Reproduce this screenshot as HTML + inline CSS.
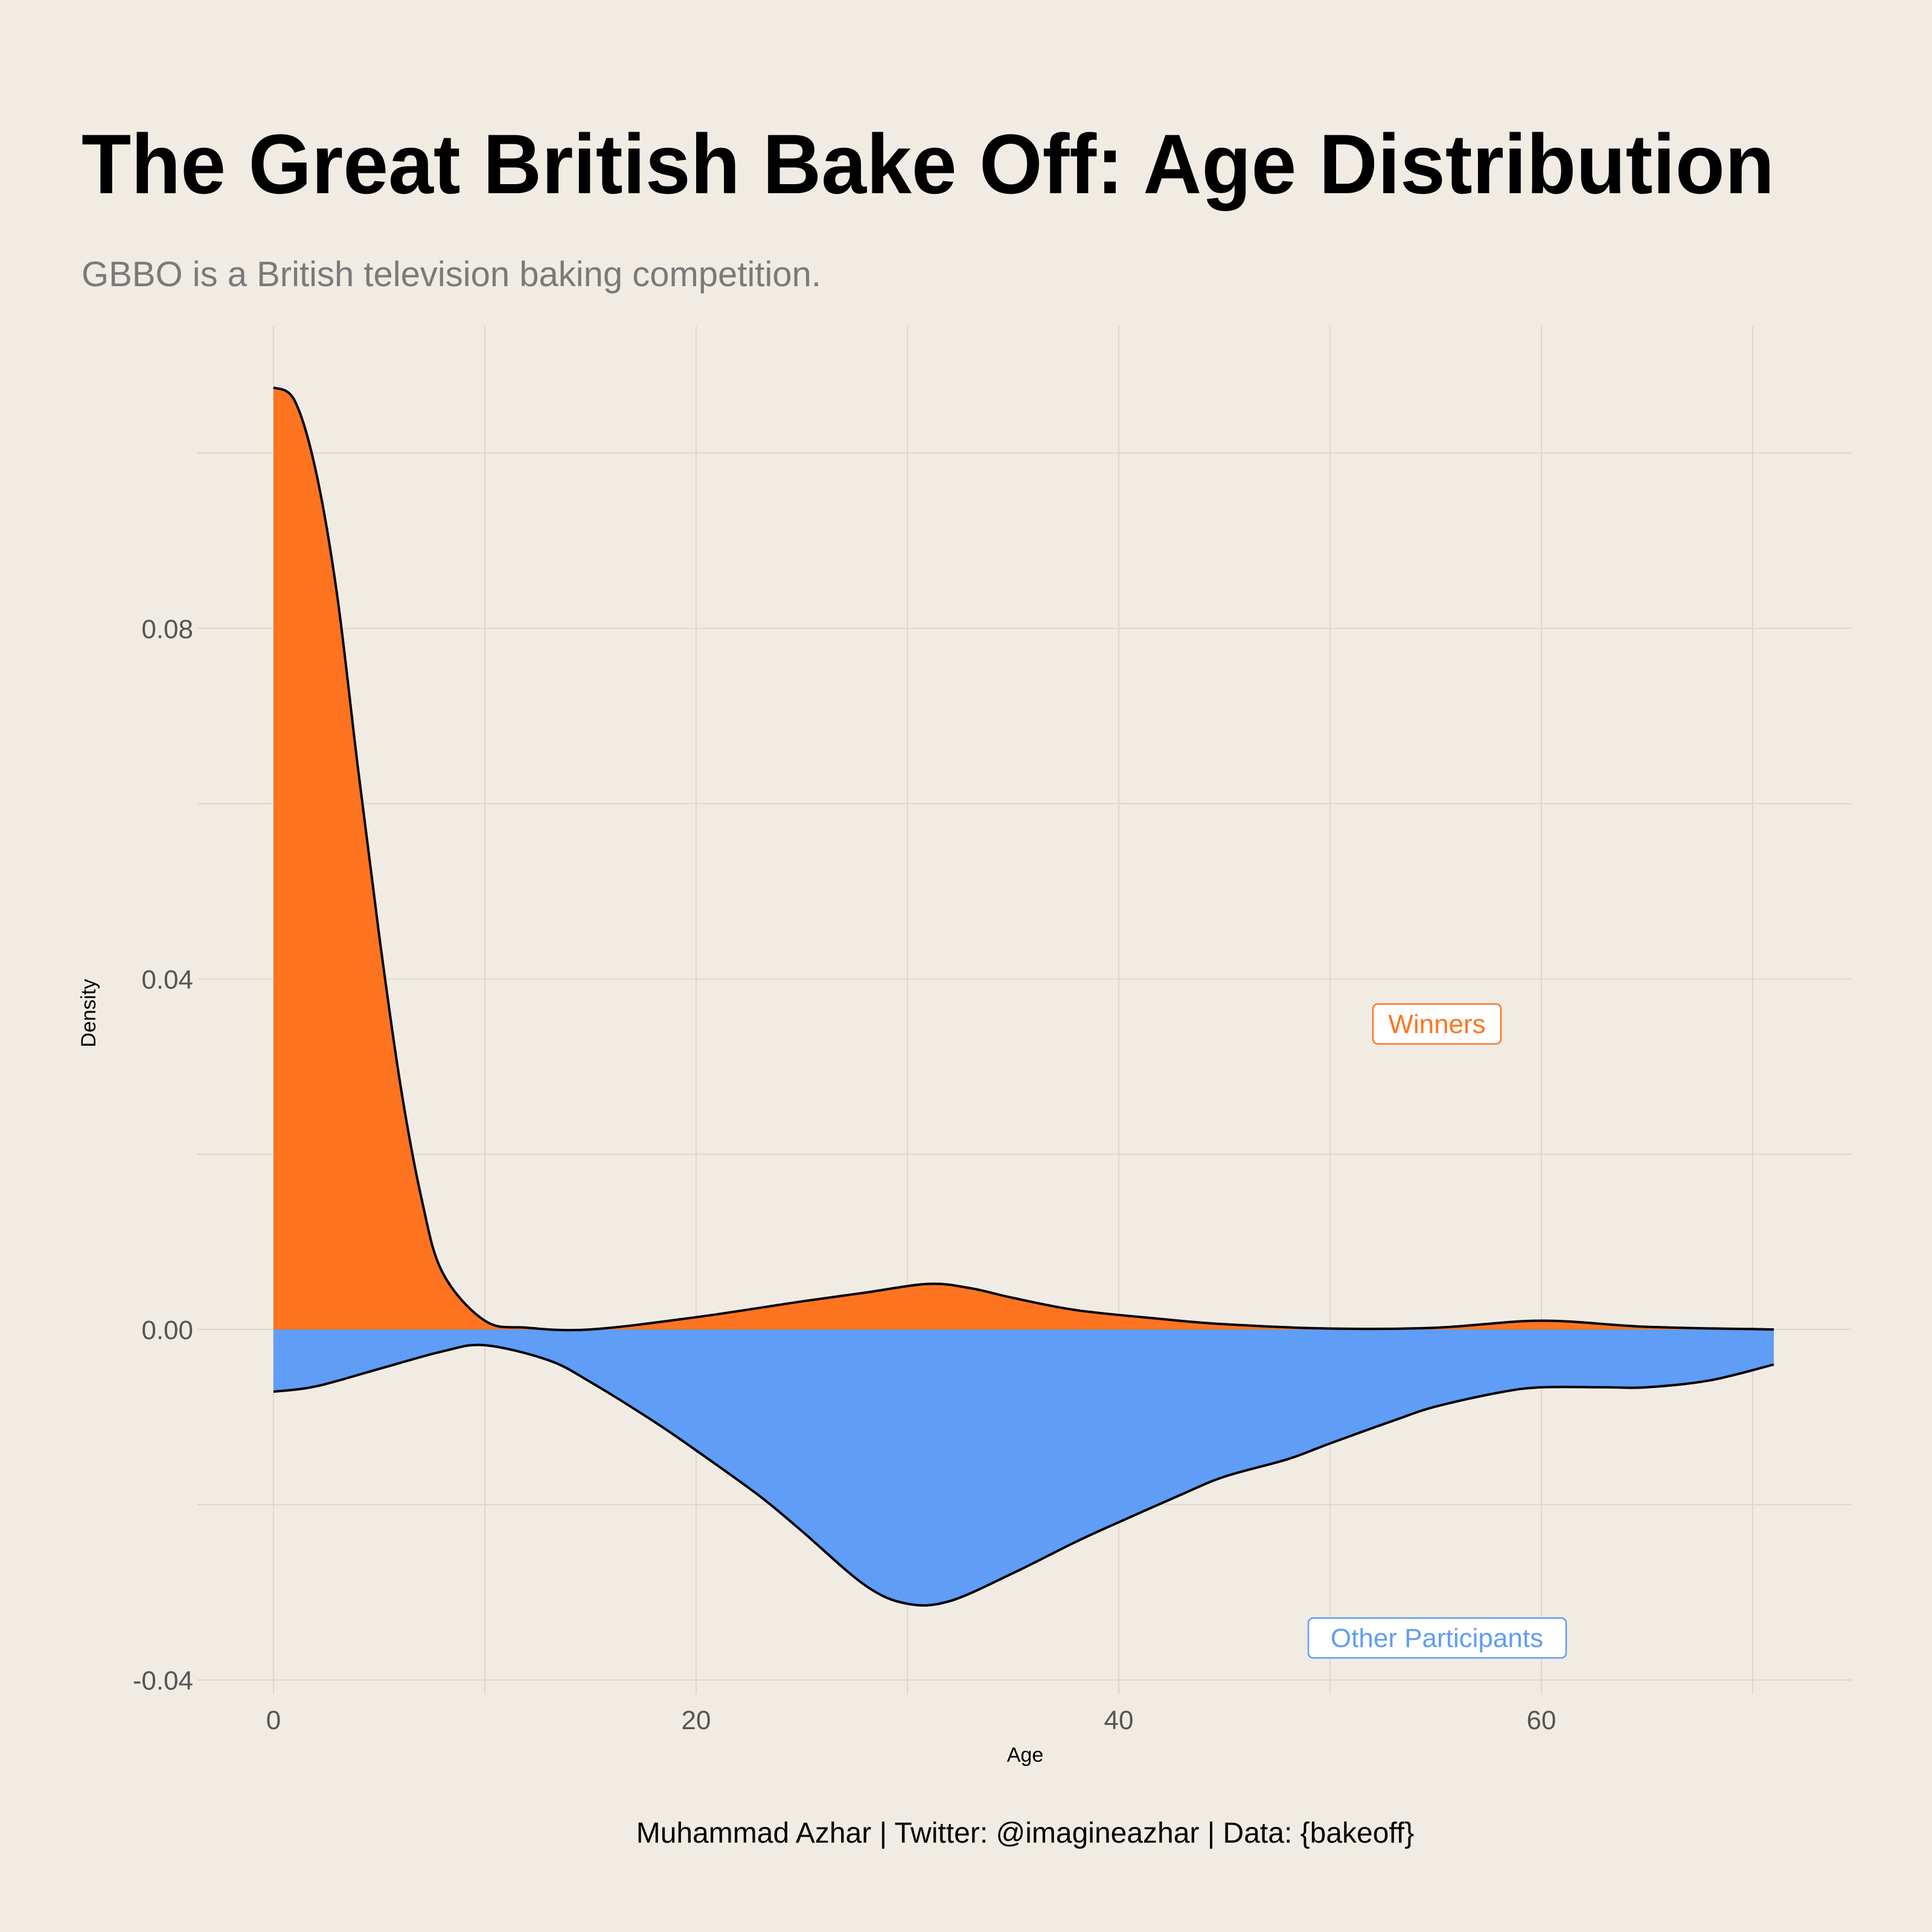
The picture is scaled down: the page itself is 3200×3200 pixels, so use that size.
<!DOCTYPE html>
<html><head><meta charset="utf-8"><style>
html,body{margin:0;padding:0;background:#f0ece4;}
svg{display:block}
</style></head><body>
<svg id="chart" width="3200" height="3200" viewBox="0 0 3200 3200" xmlns="http://www.w3.org/2000/svg">
<rect width="3200" height="3200" fill="#f0ece4"/>
<text x="135" y="320" textLength="2804" lengthAdjust="spacingAndGlyphs" font-family="Liberation Sans, sans-serif" font-weight="bold" font-size="140" fill="#000">The Great British Bake Off: Age Distribution</text>
<text x="135" y="474" font-family="Liberation Sans, sans-serif" font-size="58" fill="#7a7a7a">GBBO is a British television baking competition.</text>
<g id="grid"></g>
<g id="marks"></g>
<g id="axes"></g>
<text x="0" y="0" transform="translate(158,1678) rotate(-90)" text-anchor="middle" font-family="Liberation Sans, sans-serif" font-size="34" fill="#000">Density</text>
<text x="1698" y="2918" text-anchor="middle" font-family="Liberation Sans, sans-serif" font-size="34" fill="#000">Age</text>
<text x="1698" y="3052" text-anchor="middle" font-family="Liberation Sans, sans-serif" font-size="48" fill="#000">Muhammad Azhar | Twitter: @imagineazhar | Data: {bakeoff}</text>
<g>
<rect x="2274" y="1663" width="212" height="66" rx="8" fill="#fff" stroke="#ff7420" stroke-width="2.5"/>
<text x="2380" y="1711" text-anchor="middle" font-family="Liberation Sans, sans-serif" font-size="44" fill="#ff7420">Winners</text>
</g>
<g>
<rect x="2167" y="2680" width="427" height="66" rx="8" fill="#fff" stroke="#5f9df7" stroke-width="2.5"/>
<text x="2380" y="2728" text-anchor="middle" font-family="Liberation Sans, sans-serif" font-size="44" fill="#5f9df7">Other Participants</text>
</g>
</svg>
<script>
const winnerAges = [0,1,2,3,4,5,6,7,8,10,12,15,20,25,28,31,33,35,38,42,45,50,55,60,65,71];
const winnerDensity = [0.1075,0.106,0.098,0.084,0.064,0.045,0.028,0.015,0.0065,0.001,0.0002,0,0.0014,0.0032,0.0042,0.0052,0.0047,0.0036,0.0022,0.0012,0.0006,0.0001,0.0002,0.001,0.0003,0];
const otherAges = [0,2,5,8,10,13,15,18,20,23,25,28,30,32,35,38,40,43,45,48,50,53,55,58,60,63,65,68,71];
const otherDensity = [-0.0071,-0.0065,-0.0045,-0.0025,-0.0018,-0.0035,-0.006,-0.0105,-0.0138,-0.019,-0.023,-0.0292,-0.0313,-0.031,-0.0278,-0.0242,-0.022,-0.0188,-0.0168,-0.0148,-0.013,-0.0104,-0.0088,-0.0072,-0.0066,-0.0066,-0.0066,-0.0058,-0.004];
const xTicks = [0,20,40,60];
const xGrid = [0,10,20,30,40,50,60,70];
const yTicks = [-0.04,0.00,0.04,0.08];
const yTickLabels = ["-0.04","0.00","0.04","0.08"];
const yGrid = [-0.04,-0.02,0,0.02,0.04,0.06,0.08,0.10];

const NS="http://www.w3.org/2000/svg";
const X0=453, XS=35.0, Y0=2202, YS=14515;
const x=v=>X0+v*XS, y=v=>Y0-v*YS;
const PL=327, PR=3066, PT=540, PB=2806;
function mk(tag,attrs,parent){const e=document.createElementNS(NS,tag);for(const k in attrs)e.setAttribute(k,attrs[k]);parent.appendChild(e);return e;}
const grid=document.getElementById('grid'), marks=document.getElementById('marks'), axes=document.getElementById('axes');
xGrid.forEach(v=>{const l=mk('line',{x1:x(v),x2:x(v),y1:PT,y2:PB,stroke:'#dcd8d0','stroke-width':2},grid);

});
yGrid.forEach(v=>{const l=mk('line',{x1:PL,x2:PR,y1:y(v),y2:y(v),stroke:'#dcd8d0','stroke-width':2},grid);

});
function smooth(xs,ys){
  const p=xs.map((a,i)=>[x(a),y(ys[i])]);
  let d=`M${p[0][0]},${p[0][1]}`;
  for(let i=0;i<p.length-1;i++){
    const p0=p[Math.max(0,i-1)],p1=p[i],p2=p[i+1],p3=p[Math.min(p.length-1,i+2)];
    const c1=[p1[0]+(p2[0]-p0[0])/6,p1[1]+(p2[1]-p0[1])/6];
    const c2=[p2[0]-(p3[0]-p1[0])/6,p2[1]-(p3[1]-p1[1])/6];
    d+=` C${c1[0]},${c1[1]} ${c2[0]},${c2[1]} ${p2[0]},${p2[1]}`;
  }
  return d;
}
function area(xs,ys,color,name){
  const line=smooth(xs,ys);
  const fill=line+` L${x(xs[xs.length-1])},${y(0)} L${x(xs[0])},${y(0)} Z`;
  const a=mk('path',{d:fill,fill:color},marks);
  
  
  const l=mk('path',{d:line,fill:'none',stroke:'#000','stroke-width':4},marks);
  
  
}
area(otherAges,otherDensity,'#5f9df7','other-participants');
area(winnerAges,winnerDensity,'#ff7420','winners');
xTicks.forEach(v=>{const t=mk('text',{x:x(v),y:2864,'text-anchor':'middle','font-family':'Liberation Sans, sans-serif','font-size':44,fill:'#555'},axes);t.textContent=v;

});
yTicks.forEach((v,i)=>{const t=mk('text',{x:320,y:y(v)+16,'text-anchor':'end','font-family':'Liberation Sans, sans-serif','font-size':44,fill:'#555'},axes);t.textContent=yTickLabels[i];

});
</script>
</body></html>
